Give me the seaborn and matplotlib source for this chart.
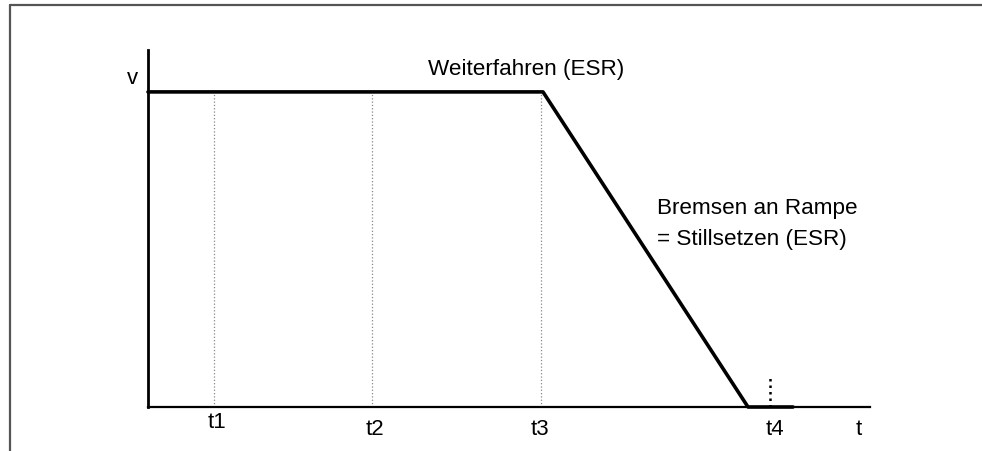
import pandas as pd
import matplotlib.pyplot as plt
import matplotlib.transforms as mtransforms
from matplotlib.lines import Line2D
import seaborn as sns

# --- data: speed profile (time in 1/100 px units of the sketch, v normalised) ---
profile_t = [0.0, 3.95, 6.0, 6.45]
profile_v = [1.0, 1.0, 0.0, 0.0]

mark_t = [0.66, 2.24, 3.93]          # dotted helpers t1..t3
mark_t4 = 6.22
mark_t4_top = 0.10
tick_pos = [0.69, 2.27, 3.92, 6.27, 7.11]
tick_labels = ["t1", "t2", "t3", "t4", "t"]

t_max = 7.22
v_max = 1.133

sns.set_theme(style="white")
plt.rcParams['font.family'] = ['Liberation Sans', 'DejaVu Sans']
plt.rcParams['text.color'] = 'black'
plt.rcParams['xtick.color'] = 'black'

fig = plt.figure(figsize=(9.82, 4.52), dpi=100)
ax = fig.add_axes([148 / 982, 44 / 452, 722 / 982, 357 / 452])

df = pd.DataFrame({"t": profile_t, "v": profile_v})
sns.lineplot(data=df, x="t", y="v", ax=ax, color="black", lw=2.6,
             sort=False, estimator=None, clip_on=False, zorder=5)

# dotted helper lines
for t in mark_t:
    ax.plot([t, t], [0, 1.0], color="#888888", lw=0.9, ls=":", zorder=2)
ax.plot([mark_t4, mark_t4], [0, mark_t4_top], color="black", lw=1.8, ls=(0, (1, 1.6)),
        zorder=2, clip_on=False)

ax.set_xlim(0, t_max)
ax.set_ylim(0, v_max)

# axes look
for s in ["top", "right"]:
    ax.spines[s].set_visible(False)
ax.spines["left"].set_linewidth(2.0)
ax.spines["bottom"].set_linewidth(1.6)
ax.spines["left"].set_color("black")
ax.spines["bottom"].set_color("black")

ax.set_xticks(tick_pos, tick_labels)
ax.set_yticks([])
ax.tick_params(axis="x", length=0, pad=8, labelsize=16, labelcolor="black")
ax.set_xlabel("")
ax.set_ylabel("")

# t1 sits a bit higher than the others
lbl = ax.get_xticklabels()[0]
lbl.set_transform(lbl.get_transform() + mtransforms.ScaledTranslation(0, 7 / 100, fig.dpi_scale_trans))

ax.text(-0.1, 1.045, "v", fontsize=16, ha="right", va="center", color="black")
ax.text(3.78, 1.075, "Weiterfahren (ESR)", fontsize=16.2, ha="center", va="center",
        color="black")
ax.text(5.09, 0.585, "Bremsen an Rampe\n= Stillsetzen (ESR)", fontsize=16.2,
        ha="left", va="center", linespacing=1.62, color="black")

# outer frame (top and left edges)
fig.add_artist(Line2D([9.5 / 982, 1.0], [1 - 5.5 / 452, 1 - 5.5 / 452],
                      color="#555555", lw=1.6))
fig.add_artist(Line2D([9.5 / 982, 9.5 / 982], [0.0, 1 - 5.5 / 452],
                      color="#555555", lw=1.6))

fig.savefig("out.png", dpi=100, facecolor="white")
